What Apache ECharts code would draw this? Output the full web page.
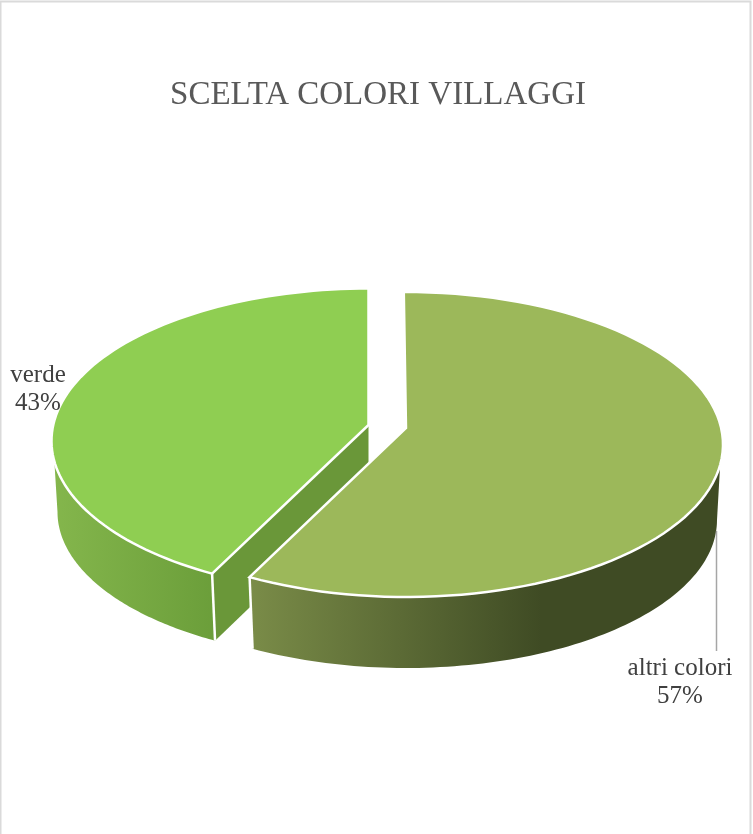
<!DOCTYPE html>
<html>
<head>
<meta charset="utf-8">
<title>SCELTA COLORI VILLAGGI</title>
<script src="https://cdn.jsdelivr.net/npm/echarts@6/dist/echarts.min.js"></script>
<style>
html,body{margin:0;padding:0;background:#fff;}
#chart{width:753px;height:834px;}
</style>
</head>
<body>
<div id="chart"></div>
<script>
var categories = ['altri colori', 'verde'];
var shares = [57.4, 42.6];
var titleText = 'SCELTA COLORI VILLAGGI';

// slice looks, same order as categories
var topColors = ['#9CB85A', '#8FCE52'];
var rimColors = [
    [[0, '#7A8C48'], [0.62, '#3F4B24'], [1, '#3F4B24']],
    [[0, '#84B64C'], [1, '#6B9E3A']]
];
var faceColor = '#6A9739';

// where each exploded slice sits on the page
var layout = [
    {cx: 406, cy: 444.5, apexY: 428, cyLow: 520, rimParams: [97.7, 90], label: [680, 682], z: 5},
    {cx: 368.5, cy: 441, apexY: 425, cyLow: 512, rimParams: [262.3, 270], label: [38, 389], z: 1}
];
var rx = 317, ry = 152.5;     // top ellipse
var rxLow = 311, ryLow = 148; // bottom ellipse, a bit smaller because of perspective
var tilt = 0.108;             // pie centre sits above the ellipse centre

var total = shares[0] + shares[1];

// data angle (clockwise from top) -> angle on the drawn ellipse
function toEllipseDeg(deg) {
    var r = deg * Math.PI / 180;
    var u = Math.sin(r), v = Math.cos(r);
    var d = 1 + tilt * v;
    var a = Math.atan2(u * Math.sqrt(1 - tilt * tilt) / d, (v + tilt) / d) * 180 / Math.PI;
    return a < 0 ? a + 360 : a;
}

function onEllipse(deg, cx, cy, a, b) {
    var r = deg * Math.PI / 180;
    return [cx + a * Math.sin(r), cy - b * Math.cos(r)];
}

function arc(from, to, cx, cy, a, b) {
    var pts = [];
    var n = 90;
    for (var i = 0; i <= n; i++) {
        pts.push(onEllipse(from + (to - from) * i / n, cx, cy, a, b));
    }
    return pts;
}

function renderSlice(params, api) {
    var i = params.dataIndex;
    var l = layout[i];
    var before = 0;
    for (var k = 0; k < i; k++) {
        before += shares[k];
    }
    var startDeg = before / total * 360;
    var endDeg = (before + api.value(0)) / total * 360;
    var p0 = i === 0 ? -0.4 : toEllipseDeg(startDeg);
    var p1 = i === 0 ? toEllipseDeg(endDeg) : 360;

    var topPts = [[l.cx, l.apexY]].concat(arc(p0, p1, l.cx, l.cy, rx, ry));

    // outer wall: the part of the rim facing the viewer
    var cutDeg = i === 0 ? p1 : p0;
    var rimPts = arc(l.rimParams[0], cutDeg, l.cx, l.cy, rx, ry)
        .concat(arc(cutDeg, l.rimParams[1], l.cx, l.cyLow, rxLow, ryLow));
    var stops = rimColors[i].map(function (s) { return {offset: s[0], color: s[1]}; });
    var cutTop = onEllipse(cutDeg, l.cx, l.cy, rx, ry);
    var cutLow = onEllipse(cutDeg, l.cx, l.cyLow, rxLow, ryLow);

    var children = [];
    if (i === 1) {
        // cut face, only visible on the left slice
        children.push({
            type: 'polygon',
            z2: l.z,
            shape: {points: [[l.cx, l.apexY], cutTop, cutLow, [l.cx, l.apexY + 68]]},
            style: {fill: faceColor}
        });
    }
    children.push({
        type: 'polygon',
        z2: l.z,
        shape: {points: rimPts},
        style: {
            fill: new echarts.graphic.LinearGradient(0, 0, 1, 0, stops)
        }
    });
    children.push({
        type: 'line',
        z2: l.z,
        shape: {x1: cutTop[0], y1: cutTop[1], x2: cutLow[0], y2: cutLow[1]},
        style: {stroke: '#fff', lineWidth: 2.5}
    });
    children.push({
        type: 'polygon',
        z2: l.z,
        shape: {points: topPts},
        style: {fill: topColors[i], stroke: '#fff', lineWidth: 2.5, lineJoin: 'miter'}
    });
    if (i === 0) {
        // leader line to the label
        children.push({
            type: 'line',
            z2: l.z,
            shape: {x1: 716.5, y1: 531, x2: 716.5, y2: 651},
            style: {stroke: '#A6A6A6', lineWidth: 1.5}
        });
    }
    children.push({
        type: 'text',
        z2: 10,
        style: {
            text: categories[i] + '\n' + Math.round(api.value(0)) + '%',
            x: l.label[0],
            y: l.label[1],
            align: 'center',
            verticalAlign: 'middle',
            fill: '#404040',
            font: '25px "Liberation Serif"',
            lineHeight: 28
        }
    });
    return {type: 'group', children: children};
}

var chart = echarts.init(document.getElementById('chart'));

chart.setOption({
    animation: false,
    backgroundColor: '#fff',
    title: {
        text: titleText,
        left: 373,
        top: 74,
        textAlign: 'center',
        textStyle: {
            fontFamily: '"Liberation Serif"',
            fontSize: 33,
            fontWeight: 'normal',
            color: '#595959'
        }
    },
    graphic: [{
        type: 'polyline',
        silent: true,
        shape: {points: [[0.5, 850], [0.5, 1.5], [750.5, 1.5], [750.5, 850]]},
        style: {fill: null, stroke: '#DADADA', lineWidth: 2}
    }],
    series: [{
        type: 'custom',
        coordinateSystem: 'none',
        renderItem: renderSlice,
        data: shares.map(function (v, i) {
            return {name: categories[i], value: [v]};
        })
    }]
});
</script>
</body>
</html>
